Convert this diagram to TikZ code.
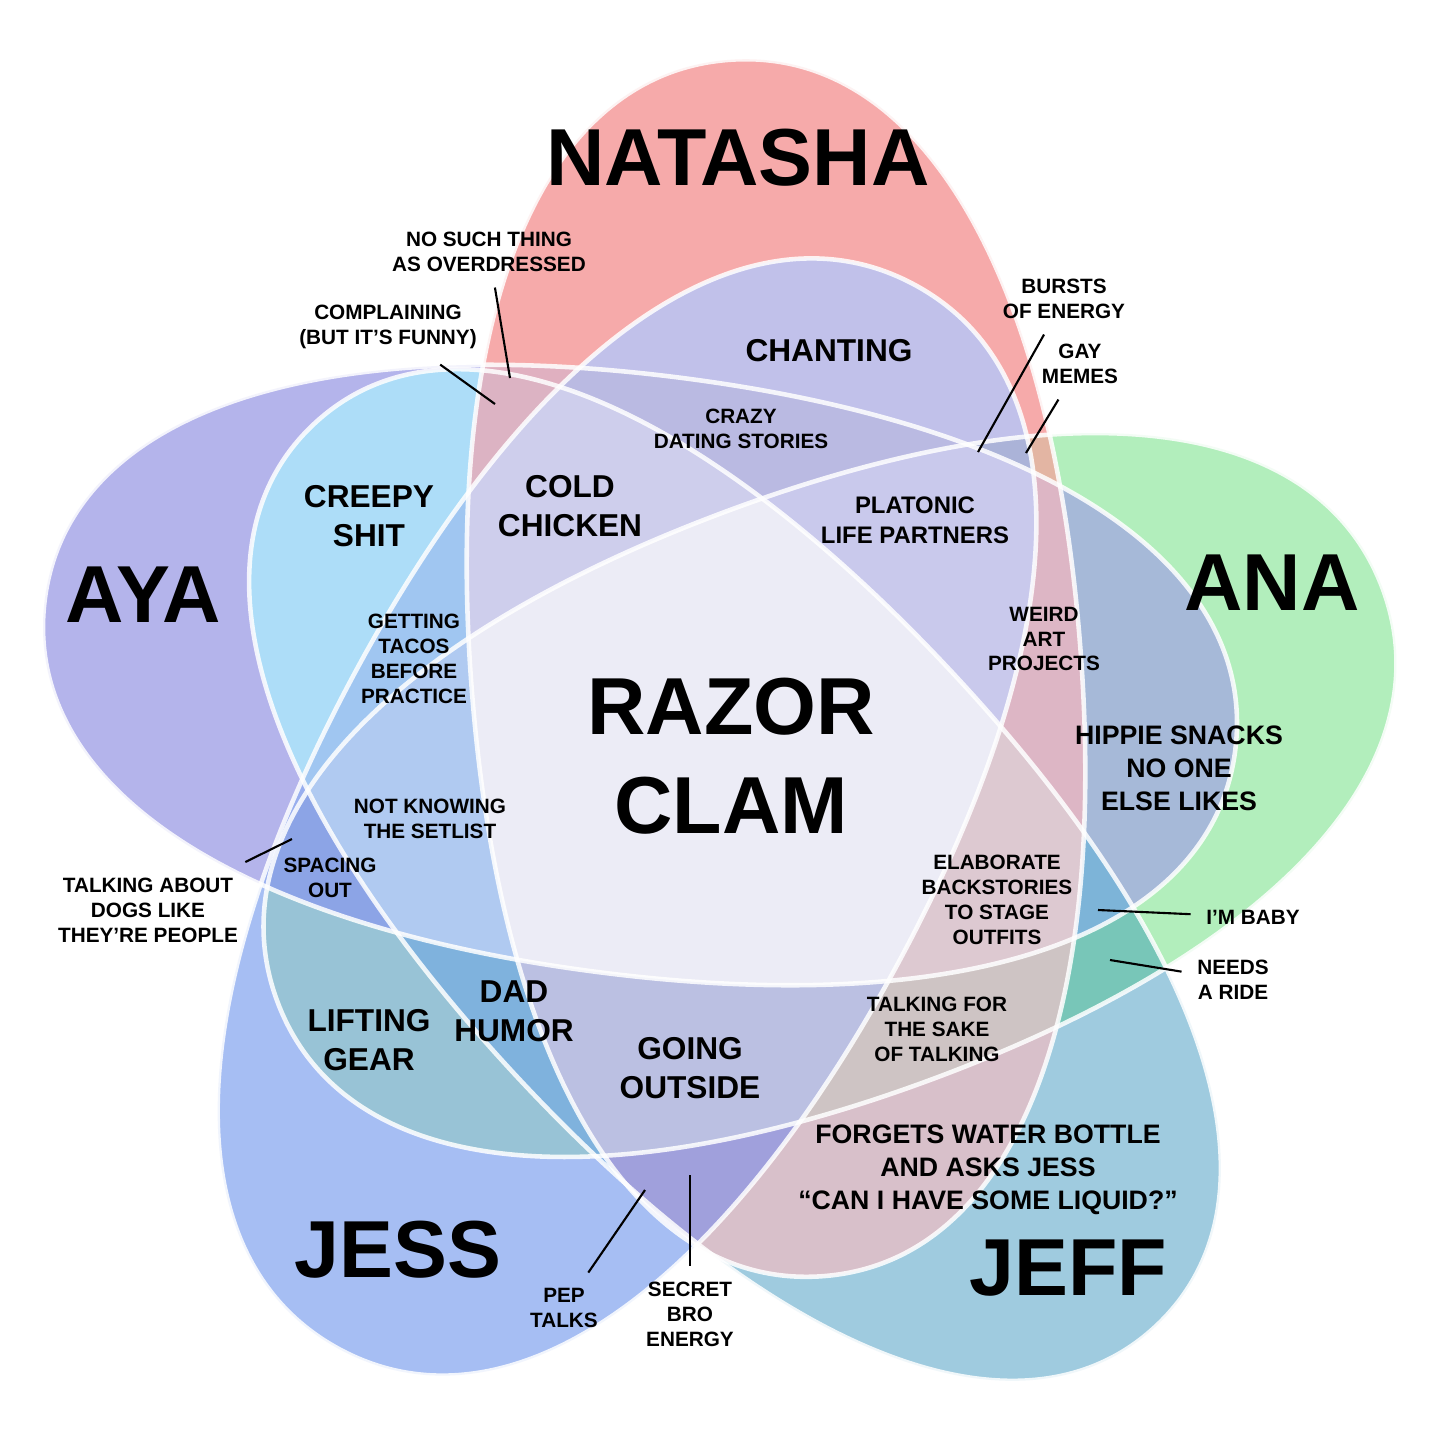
\documentclass[tikz,border=0pt]{standalone}
\usepackage{fontspec}
\setmainfont{Liberation Sans}

% the five colours and their overlaps
\definecolor{colN}{HTML}{F6AAAA}
\definecolor{colA}{HTML}{B2EEBC}
\definecolor{colY}{HTML}{B4B4EB}
\definecolor{colS}{HTML}{A6BEF3}
\definecolor{colF}{HTML}{9FCBDF}
\definecolor{colNA}{HTML}{E3B5A3}
\definecolor{colNY}{HTML}{E0B0C0}
\definecolor{colNS}{HTML}{C1C1EA}
\definecolor{colNF}{HTML}{D8C0CA}
\definecolor{colAY}{HTML}{A6B9D8}
\definecolor{colAS}{HTML}{98C3D6}
\definecolor{colAF}{HTML}{78C6B8}
\definecolor{colYS}{HTML}{98AEEE}
\definecolor{colYF}{HTML}{ADDDF8}
\definecolor{colSF}{HTML}{7FAEE6}
\definecolor{colNAY}{HTML}{DDB6C5}
\definecolor{colNAS}{HTML}{ABB3D8}
\definecolor{colNAF}{HTML}{CEC4C4}
\definecolor{colNYS}{HTML}{BABAE2}
\definecolor{colNYF}{HTML}{DCB3C3}
\definecolor{colNSF}{HTML}{A0A0DC}
\definecolor{colASF}{HTML}{7FB2DD}
\definecolor{colAYF}{HTML}{7DB4D8}
\definecolor{colAYS}{HTML}{8CA4E6}
\definecolor{colYSF}{HTML}{A0C6F1}
\definecolor{colNAYS}{HTML}{C9C9EC}
\definecolor{colNAYF}{HTML}{DDC9D1}
\definecolor{colNASF}{HTML}{BBC0E2}
\definecolor{colNYSF}{HTML}{CECEEC}
\definecolor{colAYSF}{HTML}{B0CAF1}
\definecolor{colAll}{HTML}{ECECF6}

\tikzset{
  petal/.style n args={4}{shift={#1},rotate=#2,
    insert path={(#3,0) .. controls (#3,0.62*#4) and (0.62*#3,#4) .. (0,#4)
      .. controls (-0.62*#3,#4) and (-#3,0.62*#4) .. (-#3,0)
      .. controls (-#3,-0.62*#4) and (-0.62*#3,-#4) .. (0,-#4)
      .. controls (0.62*#3,-#4) and (#3,-0.62*#4) .. (#3,0) -- cycle}},
  natasha/.style={petal={(7.76,-6.68)}{94.5}{6.10}{3.05}},
  ana/.style={petal={(8.30,-7.95)}{20.5}{5.90}{3.02}},
  aya/.style={petal={(6.40,-6.75)}{172.8}{6.00}{3.00}},
  jess/.style={petal={(6.27,-8.17)}{241.6}{6.05}{3.08}},
  jeff/.style={petal={(7.35,-8.75)}{-47}{6.17}{2.97}},
  rim/.style={draw=white,line width=1.3pt,draw opacity=0.85},
  who/.style={font=\fontsize{23}{28}\selectfont\bfseries,align=center,inner sep=0pt},
  mid/.style={font=\fontsize{9}{11}\selectfont\bfseries,align=center,inner sep=1pt},
  snack/.style={font=\fontsize{7.6}{9.4}\selectfont\bfseries,align=center,inner sep=1pt},
  note/.style={font=\fontsize{5.9}{7.1}\selectfont\bfseries,align=center,inner sep=1.5mm},
  pointer/.style={draw=black,line width=0.6pt},
}

% fill the part where all the listed petals meet
\newcommand\region[2]{%
  \begin{scope}
    \foreach \m in {#1}{\clip[\m];}
    \fill[#2] (0,0) rectangle (14.40,-14.34);
  \end{scope}}

\begin{document}
\begin{tikzpicture}
\useasboundingbox (0,0) rectangle (14.40,-14.34);
\fill[white] (0,0) rectangle (14.40,-14.34);

% single petals
\foreach \m/\c in {natasha/colN,ana/colA,aya/colY,jess/colS,jeff/colF}
  \fill[\c,\m];

% overlaps, two at a time up to all five
\region{natasha,ana}{colNA}
\region{natasha,aya}{colNY}
\region{natasha,jess}{colNS}
\region{natasha,jeff}{colNF}
\region{ana,aya}{colAY}
\region{ana,jess}{colAS}
\region{ana,jeff}{colAF}
\region{aya,jess}{colYS}
\region{aya,jeff}{colYF}
\region{jess,jeff}{colSF}
\region{natasha,ana,aya}{colNAY}
\region{natasha,ana,jess}{colNAS}
\region{natasha,ana,jeff}{colNAF}
\region{natasha,aya,jess}{colNYS}
\region{natasha,aya,jeff}{colNYF}
\region{natasha,jess,jeff}{colNSF}
\region{ana,jess,jeff}{colASF}
\region{ana,aya,jeff}{colAYF}
\region{ana,aya,jess}{colAYS}
\region{aya,jess,jeff}{colYSF}
\region{natasha,ana,aya,jess}{colNAYS}
\region{natasha,ana,aya,jeff}{colNAYF}
\region{natasha,ana,jess,jeff}{colNASF}
\region{natasha,aya,jess,jeff}{colNYSF}
\region{ana,aya,jess,jeff}{colAYSF}
\region{natasha,ana,aya,jess,jeff}{colAll}

\foreach \m in {natasha,ana,aya,jess,jeff}
  \path[rim,\m];

% names
\node[who] (natname) at (7.38,-1.58) {NATASHA};
\node[who] (ayaname) at (1.43,-5.95) {AYA};
\node[who] (ananame) at (12.72,-5.83) {ANA};
\node[who] (jessname) at (3.98,-12.50) {JESS};
\node[who] (jeffname) at (10.68,-12.68) {JEFF};
\node[who] (clam) at (7.31,-7.56) {RAZOR\\CLAM};

% labels in the regions
\node[mid] (chanting) at (8.29,-3.51) {CHANTING};
\node[mid] (creepy) at (3.69,-5.16) {CREEPY\\SHIT};
\node[mid] (cold) at (5.70,-5.06) {COLD\\CHICKEN};
\node[mid] (lifting) at (3.69,-10.40) {LIFTING\\GEAR};
\node[mid] (dad) at (5.14,-10.11) {DAD\\HUMOR};
\node[mid] (going) at (6.90,-10.68) {GOING\\OUTSIDE};
\node[snack] (hippie) at (11.79,-7.68) {HIPPIE SNACKS\\NO ONE\\ELSE LIKES};
\node[snack] (forgets) at (9.88,-11.70) {FORGETS WATER BOTTLE\\AND ASKS JESS\\“CAN I HAVE SOME LIQUID?”};
\node[font=\fontsize{6.8}{8.5}\selectfont\bfseries,align=center] (platonic) at (9.15,-5.20) {PLATONIC\\LIFE PARTNERS};
\node[note] (crazy) at (7.41,-4.29) {CRAZY\\DATING STORIES};
\node[note] (tacos) at (4.14,-6.59) {GETTING\\TACOS\\BEFORE\\PRACTICE};
\node[note] (weird) at (10.44,-6.39) {WEIRD\\ART\\PROJECTS};
\node[note] (setlist) at (4.30,-8.19) {NOT KNOWING\\THE SETLIST};
\node[note] (spacing) at (3.30,-8.78) {SPACING\\OUT};
\node[note] (elaborate) at (9.97,-9.00) {ELABORATE\\BACKSTORIES\\TO STAGE\\OUTFITS};
\node[note] (talking) at (9.37,-10.29) {TALKING FOR\\THE SAKE\\OF TALKING};

% labels outside, with pointers
\node[note] (nosuch) at (4.89,-2.52) {NO SUCH THING\\AS OVERDRESSED};
\node[note] (complain) at (3.88,-3.27) {COMPLAINING\\(BUT IT’S FUNNY)};
\node[note] (bursts) at (10.64,-2.99) {BURSTS\\OF ENERGY};
\node[note] (gay) at (10.80,-3.64) {GAY\\MEMES};
\node[note] (dogs) at (1.48,-9.10) {TALKING ABOUT\\DOGS LIKE\\THEY’RE PEOPLE};
\node[note] (baby) at (12.53,-9.17) {I’M BABY};
\node[note] (ride) at (12.33,-9.80) {NEEDS\\A RIDE};
\node[note] (pep) at (5.64,-13.08) {PEP\\TALKS};
\node[note] (secret) at (6.90,-13.14) {SECRET\\BRO\\ENERGY};

\coordinate (nosuchtip) at (5.10,-3.78);
\coordinate (complaintip) at (4.95,-4.04);
\coordinate (burststip) at (9.78,-4.52);
\coordinate (gaytip) at (10.26,-4.53);
\coordinate (dogstip) at (2.92,-8.39);
\coordinate (babytip) at (10.98,-9.10);
\coordinate (ridetip) at (11.10,-9.60);
\coordinate (peptip) at (6.45,-11.90);
\coordinate (secrettip) at (6.90,-11.75);

\draw[pointer] (nosuchtip) -- (nosuch);
\draw[pointer] (complaintip) -- (complain);
\draw[pointer] (burststip) -- (bursts);
\draw[pointer] (gaytip) -- (gay);
\draw[pointer] (dogstip) -- (dogs);
\draw[pointer] (babytip) -- (baby);
\draw[pointer] (ridetip) -- (ride);
\draw[pointer] (peptip) -- (pep);
\draw[pointer] (secrettip) -- (secret);
\end{tikzpicture}
\end{document}
